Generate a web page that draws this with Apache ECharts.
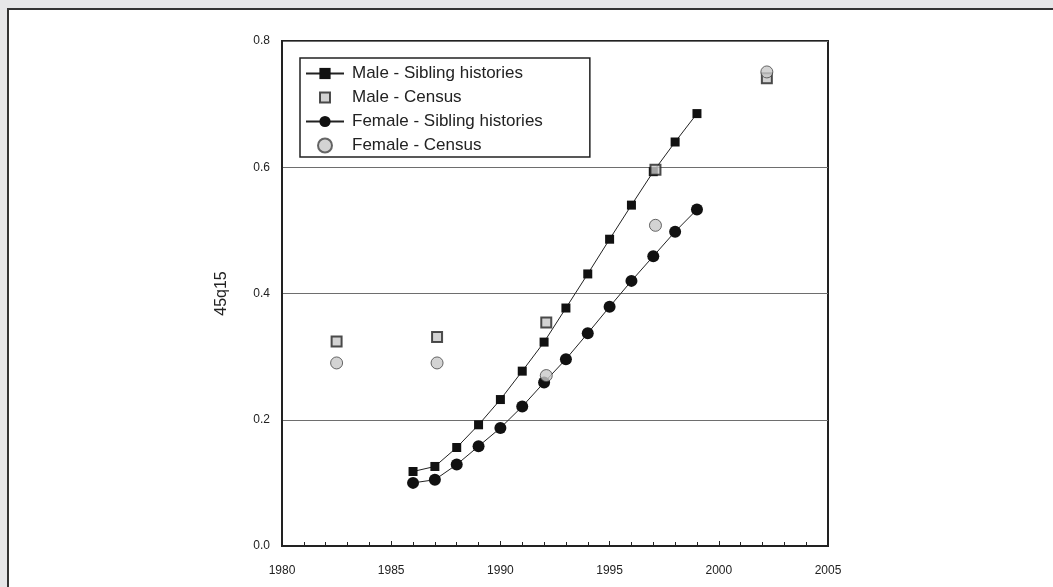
<!DOCTYPE html>
<html>
<head>
<meta charset="utf-8">
<script src="https://cdn.jsdelivr.net/npm/echarts@6/dist/echarts.min.js"></script>
<style>
html,body{margin:0;padding:0;background:#e6e6e8;}
#chart{width:1053px;height:587px;}
</style>
</head>
<body>
<div id="chart"></div>
<script>
// ---- data ----
var sibYears = [1986,1987,1988,1989,1990,1991,1992,1993,1994,1995,1996,1997,1998,1999];
var maleSib = [0.118,0.126,0.156,0.192,0.232,0.277,0.323,0.377,0.431,0.486,0.540,0.593,0.640,0.685];
var femaleSib = [0.100,0.105,0.129,0.158,0.187,0.221,0.259,0.296,0.337,0.379,0.420,0.459,0.498,0.533];
var censusYears = [1982.5,1987.1,1992.1,1997.1,2002.2];
var maleCensus = [0.324,0.331,0.354,0.596,0.741];
var femaleCensus = [0.290,0.290,0.270,0.508,0.751];
var seriesNames = ['Male - Sibling histories','Male - Census','Female - Sibling histories','Female - Census'];
var yTitle = '45q15';

function pairs(xs, ys){ return xs.map(function(x,i){ return [x, ys[i]]; }); }

var chart = echarts.init(document.getElementById('chart'), null, {renderer:'canvas'});
var font = 'Liberation Sans, Arial, sans-serif';
// square legend icon padded inside a 38x14 box so it is not stretched
var squareIcon = 'path://M0,0M38,14M14,2H24V12H14Z';
chart.setOption({
  backgroundColor: '#e6e6e8',
  animation: false,
  textStyle: {fontFamily: font, color: '#222'},
  graphic: [{
    type: 'rect', z: -100, silent: true,
    shape: {x: 8, y: 9, width: 1200, height: 800},
    style: {fill: '#ffffff', stroke: '#333333', lineWidth: 2}
  }],
  grid: {
    left: 282, right: 225, top: 41, bottom: 41,
    show: true, backgroundColor: '#ffffff', borderColor: '#222', borderWidth: 2
  },
  legend: {
    orient: 'vertical', left: 300, top: 58,
    data: [
      {name: seriesNames[0]},
      {name: seriesNames[1], icon: squareIcon},
      {name: seriesNames[2]},
      {name: seriesNames[3]}
    ],
    backgroundColor: '#ffffff',
    borderColor: '#222', borderWidth: 1.5,
    padding: [7, 47, 3, 5],
    itemWidth: 38, itemHeight: 14, itemGap: 7,
    textStyle: {fontFamily: font, fontSize: 17, color: '#222', padding: [0,0,0,3]}
  },
  xAxis: {
    type: 'value', min: 1980, max: 2005, interval: 5,
    axisLine: {show: true, lineStyle: {color: '#222', width: 2}},
    axisTick: {show: true, inside: true, length: 5, lineStyle: {color: '#222'}},
    minorTick: {show: true, splitNumber: 5, length: 4, lineStyle: {color: '#222'}},
    splitLine: {show: false},
    axisLabel: {fontFamily: font, fontSize: 12, color: '#222', margin: 19,
      formatter: function(v){ return String(v); }}
  },
  yAxis: {
    type: 'value', min: 0, max: 0.8, interval: 0.2,
    name: yTitle, nameLocation: 'middle', nameGap: 52, nameRotate: 90,
    nameTextStyle: {fontFamily: font, fontSize: 16, color: '#222'},
    axisLine: {show: true, lineStyle: {color: '#222', width: 2}},
    axisTick: {show: false},
    splitLine: {show: true, lineStyle: {color: '#6e6e6e', width: 1}},
    axisLabel: {fontFamily: font, fontSize: 12, color: '#222', margin: 12,
      formatter: function(v){ return v.toFixed(1); }}
  },
  series: [
    {name: seriesNames[0], type: 'line', data: pairs(sibYears, maleSib),
     symbol: 'rect', symbolSize: 9, z: 2,
     lineStyle: {color: '#222', width: 1}, itemStyle: {color: '#111'}},
    {name: seriesNames[2], type: 'line', data: pairs(sibYears, femaleSib),
     symbol: 'circle', symbolSize: 12, z: 2,
     lineStyle: {color: '#222', width: 1}, itemStyle: {color: '#111'}},
    {name: seriesNames[1], type: 'scatter', data: pairs(censusYears, maleCensus),
     symbol: 'rect', symbolSize: 10, z: 3,
     itemStyle: {color: '#c8c8c8', borderColor: '#222', borderWidth: 2}},
    {name: seriesNames[3], type: 'scatter', data: pairs(censusYears, femaleCensus),
     symbol: 'circle', symbolSize: 12, z: 4,
     itemStyle: {color: '#c8c8c8', borderColor: '#444', borderWidth: 1}}
  ]
});
</script>
</body>
</html>
